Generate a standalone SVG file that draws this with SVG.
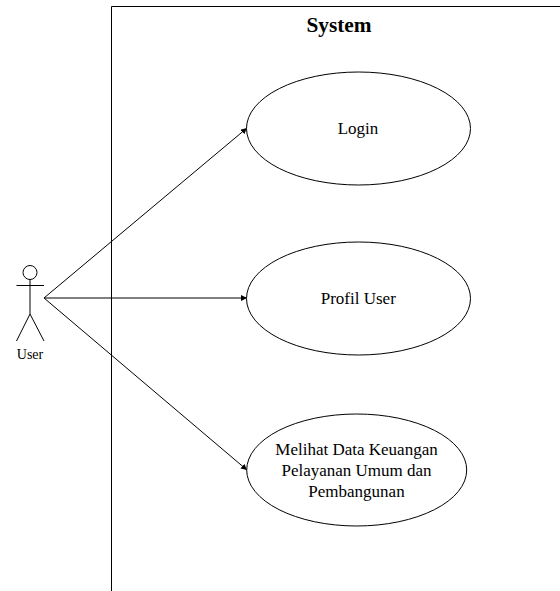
<svg xmlns="http://www.w3.org/2000/svg" width="560" height="591" viewBox="0 0 560 591">
<style>
text{font-family:"Liberation Serif","Times New Roman",serif;fill:#000;text-anchor:middle}
.s{fill:none;stroke:#000;stroke-width:1}
.e{fill:#fff;stroke:#000;stroke-width:1}
.l{font-size:14px}
.t{font-size:17px}
</style>
<defs><marker id="a" markerWidth="8" markerHeight="8" refX="6" refY="3" orient="auto" markerUnits="userSpaceOnUse"><path d="M0 0L6 3L0 6Z" fill="#000"/></marker></defs>
<rect width="560" height="591" fill="#fff"/>
<g id="system"><path class="s" d="M111.500 591V6.500H560"/><text x="339" y="31.500" font-size="21.300" font-weight="bold">System</text></g>
<g id="connectors">
<path class="s" marker-end="url(#a)" d="M44 298L247 128"/>
<path class="s" marker-end="url(#a)" d="M44 298H247"/>
<path class="s" marker-end="url(#a)" d="M44 298L247 470"/>
</g>
<g id="actor-user"><circle class="s" cx="30" cy="272.500" r="7"/><path class="s" d="M30 279.500V314M16.500 285.500H44M30 314L16.500 341M30 314L44 341"/><text class="l" x="30" y="359">User</text></g>
<g id="uc-login"><ellipse class="e" cx="358.500" cy="128.500" rx="112" ry="56.500"/><text class="t" x="358" y="134">Login</text></g>
<g id="uc-profil"><ellipse class="e" cx="358.500" cy="298.500" rx="112" ry="56.500"/><text class="t" x="358.300" y="304">Profil User</text></g>
<g id="uc-data"><ellipse class="e" cx="356.700" cy="470" rx="110" ry="56"/><text class="t"><tspan x="356.500" y="455">Melihat Data Keuangan</tspan><tspan x="356.500" y="476">Pelayanan Umum dan</tspan><tspan x="356.500" y="497">Pembangunan</tspan></text></g>
</svg>
